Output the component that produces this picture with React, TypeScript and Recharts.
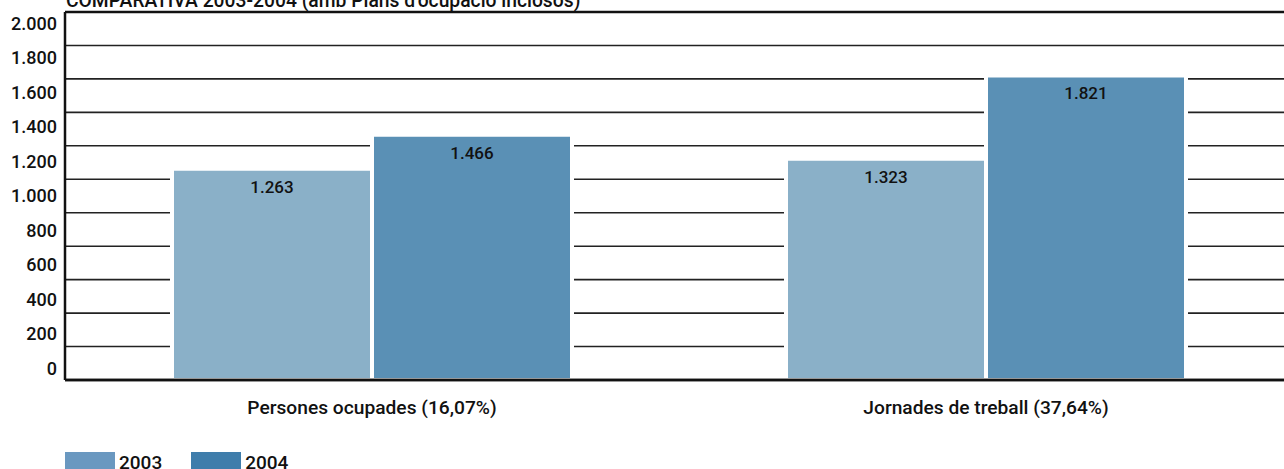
import React from 'react';
import { BarChart, Bar, XAxis, YAxis, CartesianGrid, LabelList, ReferenceLine } from 'recharts';

const categories = ['Persones ocupades (16,07%)', 'Jornades de treball (37,64%)'];
const values2003 = [1263, 1323];
const values2004 = [1466, 1821];
const yTicks = [0, 200, 400, 600, 800, 1000, 1200, 1400, 1600, 1800, 2000, 2200];
const seriesNames = ['2003', '2004'];

const barColors = ['#8AB0C8', '#5A90B5'];
const legendColors = ['#6A98C0', '#3F7DAB'];
const font = 'Roboto, "Open Sans", sans-serif';

const data = categories.map((name, i) => ({
  name,
  y2003: values2003[i],
  y2004: values2004[i],
}));

// 1263 -> "1.263"
const fmt = (v: number) => String(v).replace(/\B(?=(\d{3})+(?!\d))/g, '.');

const YTick = (props: any) => {
  const { x, y, payload } = props;
  const v = payload.value;
  if (v > 2000) return null;
  // labels in the original sit a bit above their gridline
  const dy = -12 - v * 0.005;
  return (
    <text x={x} y={y + dy} textAnchor="end" dominantBaseline="central"
      fontFamily={font} fontWeight={500} fontSize={18} fill="#111">
      {fmt(v)}
    </text>
  );
};

const XTick = (props: any) => {
  const { x, y, payload } = props;
  return (
    <text x={x} y={y + 19} textAnchor="middle" dominantBaseline="central"
      fontFamily={font} fontWeight={500} fontSize={19.2} fill="#111">
      {payload.value}
    </text>
  );
};

export default function App() {
  return (
    <div style={{ position: 'absolute', left: 0, top: 0, width: 1284, height: 469, overflow: 'hidden', background: '#fff' }}>
      <div style={{
        position: 'absolute', left: 66, top: -9, fontFamily: font, fontWeight: 500,
        fontSize: 19.3, lineHeight: '20px', color: '#111', whiteSpace: 'nowrap',
      }}>
        COMPARATIVA 2003-2004 (amb Plans d'ocupació inclosos)
      </div>
      <div style={{ position: 'absolute', left: 0, top: 0 }}>
        <BarChart width={1293} height={469} data={data}
          margin={{ top: 12, right: 0, bottom: 59, left: 0 }}
          barSize={200} barGap={0}>
          <CartesianGrid vertical={false} stroke="#222" strokeWidth={1.6} />
          <XAxis dataKey="name" tickLine={false} axisLine={{ stroke: '#111', strokeWidth: 2.5 }}
            height={30} tick={<XTick />} />
          <YAxis domain={[0, 2200]} ticks={yTicks} width={65} tickLine={false}
            axisLine={{ stroke: '#111', strokeWidth: 2.5 }} tick={<YTick />} interval={0} />
          <ReferenceLine y={2200} stroke="#111" strokeWidth={2.5} />
          <Bar dataKey="y2003" name={seriesNames[0]} fill={barColors[0]} stroke="#fff" strokeWidth={4} isAnimationActive={false}>
            <LabelList dataKey="y2003" position="insideTop" offset={12} formatter={(v: any) => fmt(v)}
              style={{ fontFamily: font, fontWeight: 500, fontSize: 17, fill: '#111' }} />
          </Bar>
          <Bar dataKey="y2004" name={seriesNames[1]} fill={barColors[1]} stroke="#fff" strokeWidth={4} isAnimationActive={false}>
            <LabelList dataKey="y2004" position="insideTop" offset={12} formatter={(v: any) => fmt(v)}
              style={{ fontFamily: font, fontWeight: 500, fontSize: 17, fill: '#111' }} />
          </Bar>
          <ReferenceLine y={0} stroke="#111" strokeWidth={2.5} />
        </BarChart>
      </div>
      <div style={{ position: 'absolute', left: 65, top: 452, display: 'flex', fontFamily: font, fontWeight: 500, fontSize: 19, color: '#111' }}>
        {seriesNames.map((n, i) => (
          <div key={n} style={{ display: 'flex', alignItems: 'flex-start', marginRight: 29 }}>
            <div style={{ width: 50, height: 17, background: legendColors[i], marginRight: 4 }} />
            <span style={{ lineHeight: '20px', marginTop: 1 }}>{n}</span>
          </div>
        ))}
      </div>
    </div>
  );
}
